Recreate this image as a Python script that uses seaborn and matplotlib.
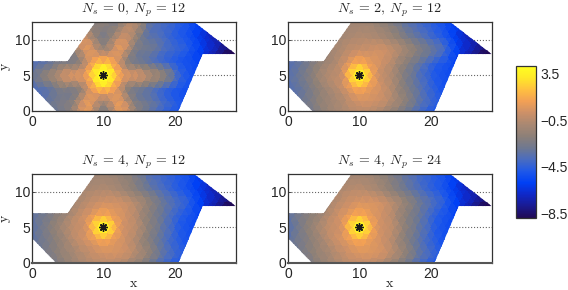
import numpy as np
import matplotlib
matplotlib.use('Agg')
import matplotlib.pyplot as plt
import matplotlib.tri as mtri
from matplotlib.patches import Polygon
import seaborn as sns

# mesh rows, top to bottom; rows alternate between the two column sets
row_y = [13.66, 11.93, 10.2, 8.46, 6.73, 5.0, 3.27, 1.54, -0.2]
cols_odd = [-1, 1, 3, 5, 7, 9, 11, 13, 15, 17, 19, 21, 23, 25, 27, 29]
cols_even = [0, 2, 4, 6, 8, 10, 12, 14, 16, 18, 20, 22, 24, 26, 28, 30]

# outline of the domain
outline = [(0, 7), (5, 7), (8.9, 12.5), (22.7, 12.5), (28.5, 8), (23.9, 8),
           (20.5, 0), (3.4, 0), (0, 3.5)]

# log field
ns0_np12 = [
    [-2, -2, -2, -0.6, -2.1, -2.2, -2.4, -2.4, -0.9, -3.6, -4.4, -5, -6.3, -7.3, -8, -8.5],
    [-3, -3, -2.2, -0.2, -1.7, -2, -1.9, -0.2, -2.9, -3.9, -4.5, -5.2, -6.4, -7.5, -8.3, -8.8],
    [-3, -3, -2.5, -2, 0.3, -1.7, -1.7, 0.3, -2.4, -3.4, -4.2, -4.9, -5.8, -7, -8, -8.6],
    [-3.2, -2.8, -2.2, -1.8, 0.9, -1.3, 0.9, -1.8, -2.8, -3.6, -4.3, -5, -6.3, -7.5, -8.8, -9],
    [-3.8, -3.5, -2.8, -2.1, -1.4, 2, 2, -1.4, -2.6, -3.5, -4.3, -5.1, -5.6, -7, -8.5, -9],
    [-3.2, -1.6, -0.3, 0.7, 1.8, 4.4, 1.8, 0.7, -0.3, -1.3, -3.5, -5.2, -5.5, -5.5, -5.5, -5.5],
    [-3.9, -3.5, -2.8, -2.1, -1.4, 2, 2, -1.4, -2.6, -3.5, -4.4, -5.1, -5.5, -5.5, -5.5, -5.5],
    [-3.6, -3.3, -2.5, -1.8, 1, -1.2, 1, -1.8, -2.9, -3.8, -4.7, -5.3, -5.5, -5.5, -5.5, -5.5],
    [-3.5, -3.5, -3.2, -2.4, 0.8, -1.6, -1.6, 0.8, -2.6, -3.7, -4.7, -5.3, -5.5, -5.5, -5.5, -5.5],
]
ns2_np12 = [
    [-3, -3, -3, -2.5, -1.5, -1.3, -1.5, -2.3, -3.2, -4, -4.6, -5.3, -6.3, -7.3, -8, -8.5],
    [-3, -3, -2.5, -2, -1.3, -1, -1.2, -1.8, -2.8, -3.7, -4.4, -5.2, -6.4, -7.5, -8.3, -8.8],
    [-3, -3, -2.5, -2, -1.2, -0.7, -0.6, -0.8, -1.5, -2.6, -3.5, -4.4, -5.6, -7, -8, -8.6],
    [-3.2, -2.8, -2, -1.2, -0.5, 0, 0.2, 0, -0.9, -2, -3, -4.1, -6.3, -7.5, -8.8, -9],
    [-3.6, -3.4, -2.5, -1.4, -0.6, 1.2, 1.2, 0.2, -1, -2.3, -3.6, -4.7, -5.5, -7, -8.5, -9],
    [-3.5, -2.7, -1.6, -0.5, 0.8, 4.2, 0.9, -0.5, -2, -3.4, -4.6, -5.3, -5.5, -5.5, -5.5, -5.5],
    [-3.6, -3.4, -2.5, -1.4, -0.4, 1.2, 1.2, 0.2, -1.2, -2.6, -3.8, -4.9, -5.5, -5.5, -5.5, -5.5],
    [-3.3, -3, -2, -1.2, -0.5, 0.3, 0.2, -0.4, -1.6, -3, -4.2, -5, -5.5, -5.5, -5.5, -5.5],
    [-3, -3, -2.8, -1.8, -1, -0.5, -0.5, -1, -2.2, -3.3, -4.5, -5.2, -5.5, -5.5, -5.5, -5.5],
]
ns4_np12 = [
    [-3, -3, -3, -2.5, -1.6, -1.5, -1.7, -2.5, -3.5, -4.2, -4.8, -5.4, -6.3, -7.3, -8, -8.5],
    [-3, -3, -2.5, -2, -1.3, -1.1, -1.4, -2, -3.2, -4, -4.6, -5.3, -6.4, -7.5, -8.3, -8.8],
    [-3, -3, -2.5, -1.8, -1, -0.7, -0.7, -1.3, -2.2, -3.2, -4.1, -4.9, -5.8, -7, -8, -8.6],
    [-3.2, -2.6, -1.8, -1.1, -0.3, 0.2, 0.2, -0.4, -1.5, -2.8, -3.8, -4.7, -6.3, -7.5, -8.8, -9],
    [-3.4, -3, -2.2, -1.1, 0, 1.1, 1.1, 0.2, -1, -2.4, -3.6, -4.7, -5.5, -7, -8.5, -9],
    [-3.4, -2.3, -1.3, -0.2, 1, 4.2, 1, -0.1, -1.6, -3, -4.4, -5.3, -5.5, -5.5, -5.5, -5.5],
    [-3.4, -3, -2.1, -1, 0.1, 1.1, 1.1, 0.1, -1.2, -2.6, -3.9, -4.9, -5.5, -5.5, -5.5, -5.5],
    [-3.2, -2.6, -1.7, -0.9, -0.2, 0.3, 0.3, -0.3, -1.5, -3, -4.2, -5, -5.5, -5.5, -5.5, -5.5],
    [-3, -3, -2.6, -1.6, -0.9, -0.5, -0.5, -1, -2.1, -3.4, -4.5, -5.2, -5.5, -5.5, -5.5, -5.5],
]
ns4_np24 = [
    [-3, -3, -3, -2.5, -1.4, -1.3, -1.6, -2.5, -3.3, -4, -4.6, -5.3, -6.3, -7.3, -8, -8.5],
    [-3, -3, -2.5, -1.8, -1.1, -0.9, -1.2, -1.9, -2.9, -3.8, -4.5, -5.2, -6.4, -7.5, -8.3, -8.8],
    [-3, -3, -2.3, -1.6, -0.8, -0.4, -0.5, -1.1, -2.1, -3.1, -4, -4.8, -5.8, -7, -8, -8.6],
    [-3.2, -2.5, -1.7, -0.9, -0.1, 0.4, 0.4, -0.2, -1.3, -2.6, -3.7, -4.7, -6.3, -7.5, -8.8, -9],
    [-3.5, -2.9, -2, -1, 0.1, 1.2, 1.2, 0.2, -0.9, -2.3, -3.5, -4.7, -5.5, -7, -8.5, -9],
    [-3.6, -2.3, -1.2, -0.1, 1, 4.2, 1, 0, -1.5, -2.9, -4.3, -5.3, -5.5, -5.5, -5.5, -5.5],
    [-3.5, -2.9, -2, -0.9, 0.2, 1.2, 1.2, 0.2, -1, -2.5, -3.8, -4.9, -5.5, -5.5, -5.5, -5.5],
    [-3.2, -2.6, -1.6, -0.8, 0, 0.5, 0.5, -0.1, -1.4, -2.9, -4.1, -5, -5.5, -5.5, -5.5, -5.5],
    [-3, -3, -2.5, -1.5, -0.8, -0.3, -0.3, -0.9, -2, -3.3, -4.4, -5.2, -5.5, -5.5, -5.5, -5.5],
]

panels = [r'$N_s\,=\,0,\;N_p\,=\,12$', r'$N_s\,=\,2,\;N_p\,=\,12$',
          r'$N_s\,=\,4,\;N_p\,=\,12$', r'$N_s\,=\,4,\;N_p\,=\,24$']
fields = [ns0_np12, ns2_np12, ns4_np12, ns4_np24]
cbar_ticks = [3.5, -0.5, -4.5, -8.5]

sns.set_theme(style='ticks')
plt.rcParams['font.family'] = ['Liberation Sans', 'DejaVu Sans']
plt.rcParams['mathtext.fontset'] = 'cm'

cmap = sns.blend_palette(['#210a55', '#1a1a90', '#0f28c8', '#0040f5', '#1f58e8', '#4a6cc0',
                          '#6f7890', '#8d8078', '#a98872', '#cc9068', '#f2a055', '#ffc040',
                          '#ffe828', '#ffff20'], as_cmap=True)
vmin, vmax = -8.93, 4.15

# same triangulation for all panels, split once so the facets match the reference size
xs, ys = [], []
for i, y in enumerate(row_y):
    for x in (cols_odd if i % 2 == 0 else cols_even):
        xs.append(x)
        ys.append(y)
tri = mtri.Triangulation(xs, ys)
refiner = mtri.UniformTriRefiner(tri)

W, H = 568, 290
boxes = [(32, 22), (288, 22), (32, 174), (288, 174)]
ax_w, ax_h = 203.5, 89

fig = plt.figure(figsize=(W / 100, H / 100), dpi=100)
for n, (left, top) in enumerate(boxes):
    ax = fig.add_axes([left / W, 1 - (top + ax_h) / H, ax_w / W, ax_h / H])
    fine_tri, fine_z = refiner.refine_field(np.ravel(fields[n]), subdiv=1)
    mesh = ax.tripcolor(fine_tri, fine_z, shading='flat', cmap=cmap,
                        vmin=vmin, vmax=vmax, rasterized=True, zorder=2)
    mesh.set_clip_path(Polygon(outline, transform=ax.transData))
    ax.plot([10], [5], marker=(8, 2, 0), color='k', ms=6, mew=1, zorder=3)
    ax.set_xlim(0, 28.5)
    ax.set_ylim(0, 12.5)
    ax.set_xticks([0, 10, 20])
    ax.set_yticks([0, 5, 10])
    ax.tick_params(direction='in', length=2, width=0.6, labelsize=10, pad=1.5, color='#333333')
    ax.tick_params(axis='x', pad=3)
    ax.yaxis.grid(True, linestyle=':', color='#666666', linewidth=0.8, zorder=1)
    ax.set_axisbelow(True)
    for s in ax.spines.values():
        s.set_linewidth(0.9)
        s.set_color('#333333')
        s.set_zorder(5)
    ax.set_title(panels[n], fontsize=10, pad=7)
    if n in (0, 2):
        ax.set_ylabel(r'$\mathrm{y}$', fontsize=10, labelpad=1)
    if n in (2, 3):
        ax.set_xlabel(r'$\mathrm{x}$', fontsize=10, labelpad=-4)
        ax.spines['bottom'].set_linewidth(1.5)
        ax.spines['bottom'].set_color('#555555')

cax = fig.add_axes([516 / W, 1 - 218 / H, 20 / W, 152 / H])
cb = fig.colorbar(mesh, cax=cax)
cb.set_ticks(cbar_ticks)
cb.set_ticklabels(['3.5', '\u22120.5', '\u22124.5', '\u22128.5'])
cb.ax.tick_params(direction='in', length=2, width=0.5, labelsize=10, pad=3, color='#333333')
cb.outline.set_linewidth(0.9)
cb.outline.set_edgecolor('#333333')

fig.savefig('out.png', dpi=100)
